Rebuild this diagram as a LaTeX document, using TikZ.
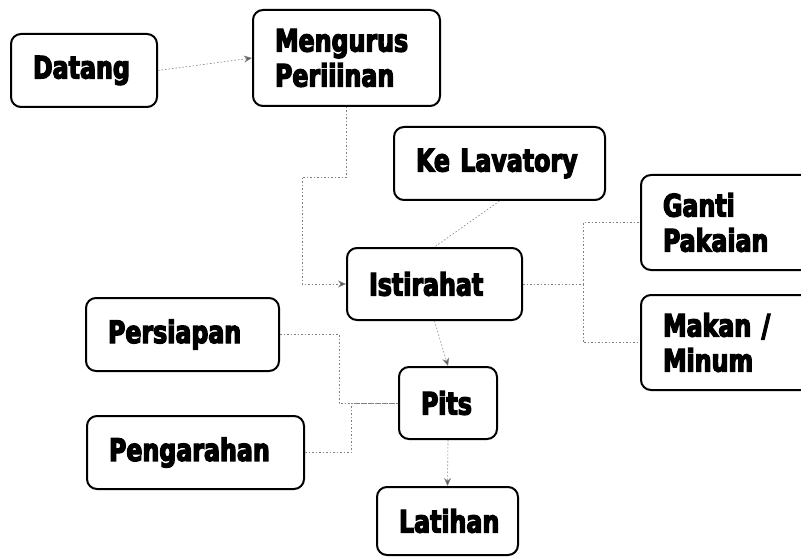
\documentclass[tikz,border=0pt]{standalone}
\usepackage{fontspec}
\newfontfamily\boxfont[FakeStretch=0.85,FakeBold=4]{DejaVu Sans Condensed Bold}
\usetikzlibrary{arrows.meta, positioning}

\begin{document}
\begin{tikzpicture}[x=1pt, y=-1pt,
    box/.style={draw, line width=2pt, rounded corners=10pt, align=left,
        inner xsep=22pt, inner ysep=0pt,
        font={\boxfont\fontsize{31}{35}\selectfont\hyphenpenalty=10000\relax}},
    link/.style={draw=gray, line width=0.6pt, dash pattern=on 1.5pt off 2pt},
    arr/.style={link, -{Stealth[length=8pt, width=7pt, fill=gray!70!black]}}]
    \clip (0,0) rectangle (801,559);
    \fill[white] (0,0) rectangle (801,559);

    % Boxes - placed by their centres
    \node[box, text width=102pt, minimum height=73pt] (datang) at (84,70.5) {Datang};
    \node[box, text width=143pt, minimum height=96pt] (urus) at (346.5,58) {Mengurus\\Periiinan};
    \node[box, text width=167pt, minimum height=73pt] (lav) at (499.5,163.5) {Ke Lavatory};
    \node[box, text width=131pt, minimum height=72pt] (rest) at (434.5,284) {Istirahat};
    \node[box, text width=136pt, minimum height=95pt] (ganti) at (731,222.5) {Ganti\\Pakaian};
    \node[box, text width=136pt, minimum height=95pt] (makan) at (731,342.5) {Makan /\\Minum};
    \node[box, text width=149pt, minimum height=73pt] (siap) at (182.5,334.5) {Persiapan};
    \node[box, text width=173pt, minimum height=73pt] (arah) at (195.5,452.5) {Pengarahan};
    \node[box, text width=54pt, minimum height=72pt] (pits) at (448,403) {Pits};
    \node[box, text width=97pt, minimum height=68pt] (latih) at (447.5,521) {Latihan};

    % Links between boxes
    \draw[arr] (datang.east) -- (urus.west);
    \draw[arr] (urus.south) -- ++(0,70) -| ([xshift=-44pt]rest.west) -- (rest.west);
    \draw[link] (lav.south) -- (rest.north);
    \draw[link] (rest.east) -- ++(60,0) coordinate (fork);
    \draw[link] (fork) |- (ganti.west);
    \draw[link] (fork) |- (makan.west);
    \draw[arr] (rest.south) -- (pits.north);
    \draw[link] (siap.east) -| ([xshift=-59pt]pits.west) -- (pits.west);
    \draw[link] (arah.east) -| ([xshift=-47pt]pits.west) -- (pits.west);
    \draw[arr] (pits.south) -- (latih.north);
\end{tikzpicture}
\end{document}
